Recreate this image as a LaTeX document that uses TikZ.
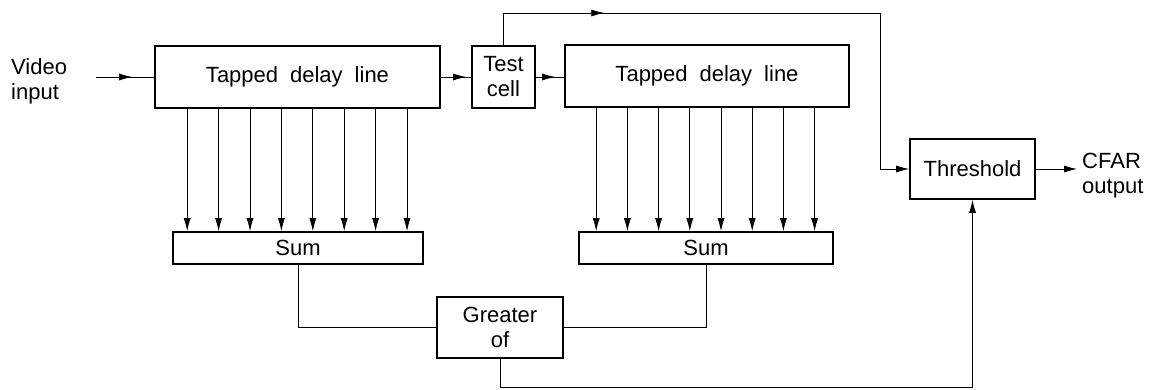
\documentclass[tikz,border=0pt]{standalone}
\usepackage{fontspec}
\setmainfont{Liberation Sans}
\usetikzlibrary{arrows.meta,decorations.markings,calc}
\newcommand\diagfont{\fontsize{22}{25}\selectfont}
\newcommand\wgap{\hspace{12pt}}
\begin{document}
\begin{tikzpicture}[x=1pt,y=-1pt,
  >={Latex[length=13pt,width=7pt]},
  box/.style={draw, line width=1.6pt, inner sep=0pt, align=center, font=\diagfont},
  txt/.style={inner sep=0pt, align=left, font=\diagfont},
  conn/.style={line width=0.8pt},
  midarr/.style={postaction={decorate,decoration={markings,mark=at position #1 with {\arrow{>}}}}}]
\fill[white] (0,0) rectangle (1152,389);
\useasboundingbox (0,0) rectangle (1152,389);
% blocks
\node[box, minimum width=285pt, minimum height=62pt] (tdlL) at (297.5,77) {Tapped\wgap delay\wgap line};
\node[box, minimum width=63pt, minimum height=62pt] (test) at (503.5,77) {Test\\cell};
\node[box, minimum width=284pt, minimum height=62pt] (tdlR) at (707,76) {Tapped\wgap delay\wgap line};
\node[box, minimum width=125pt, minimum height=60pt] (thr) at (972.5,169) {Threshold};
\node[box, minimum width=250pt, minimum height=32pt] (sumL) at (298,248) {Sum};
\node[box, minimum width=254pt, minimum height=32pt] (sumR) at (706,248) {Sum};
\node[box, minimum width=126pt, minimum height=61pt] (gr) at (500,327.5) {Greater\\of};
\node[txt, anchor=west] (vin) at (11,81) {Video\\input};
\node[txt, anchor=west] (cfar) at (1082,176) {CFAR\\output};
% coordinates
\coordinate (vstart) at (96,77);
\coordinate (topc) at (880,13);
\coordinate (bot) at (0,387.5);
\coordinate (outend) at (1077,169);
% connectors
\draw[conn, midarr=-22pt] (vstart) -- (tdlL.west);
\draw[conn, midarr=-5pt] (tdlL.east) -- (test.west);
\draw[conn, midarr=-9pt] (test.east) -- (test.east -| tdlR.west);
\draw[conn, ->, midarr=133pt] (test.north) |- (topc) |- (thr.west);
\draw[conn, ->] (thr.east) -- (outend);
\foreach \i in {0,...,7} {
  \path ([xshift=33pt+31.4pt*\i]tdlL.south west) coordinate (tl\i);
  \draw[conn, ->] (tl\i) -- (tl\i |- sumL.north);
  \path ([xshift=32pt+31.2pt*\i]tdlR.south west) coordinate (tr\i);
  \draw[conn, ->] (tr\i) -- (tr\i |- sumR.north);
}
\draw[conn] (sumL.south) |- (gr.west);
\draw[conn] (sumR.south) |- (gr.east);
\draw[conn, ->] (gr.south) -- (gr.south |- bot) -| (thr.south);
\end{tikzpicture}
\end{document}
